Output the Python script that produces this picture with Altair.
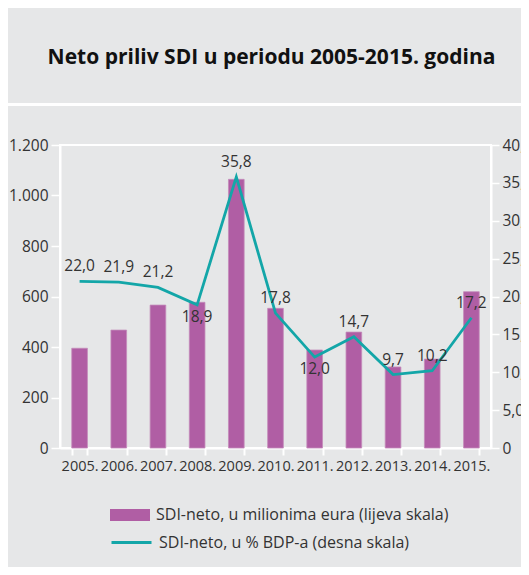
import altair as alt
import pandas as pd

years = ["2005.", "2006.", "2007.", "2008.", "2009.", "2010.", "2011.", "2012.", "2013.", "2014.", "2015."]
fdi_mil_eur = [395, 467, 566, 577, 1064, 553, 388, 459, 321, 352, 619]
fdi_pct_gdp = [22.0, 21.9, 21.2, 18.9, 35.8, 17.8, 12.0, 14.7, 9.7, 10.2, 17.2]
labels_below = ["2008.", "2011."]

series_bar = "SDI-neto, u milionima eura (lijeva skala)"
series_line = "SDI-neto, u % BDP-a (desna skala)"
title_text = "Neto priliv SDI u periodu 2005-2015. godina"

PURPLE = "#b05ea4"
TEAL = "#13a6a8"
BG = "#e6e7e8"
TXT = "#333333"
FONT = "Open Sans"

df = pd.DataFrame({
    "year": years,
    "fdi": fdi_mil_eur,
    "pct": fdi_pct_gdp,
    "s1": series_bar,
    "s2": series_line,
})
df["lbl"] = [f"{v:.1f}".replace(".", ",") for v in fdi_pct_gdp]
df["below"] = [y in labels_below for y in years]

x_enc = alt.X(
    "year:N",
    sort=years,
    title=None,
    scale=alt.Scale(paddingInner=0.6, paddingOuter=0.3),
    axis=alt.Axis(
        labelAngle=0, tickBand="extent", tickSize=7, labelPadding=4,
        domainColor="white", tickColor="white", domainWidth=2, tickWidth=2,
        labelFont=FONT, labelFontSize=14.5, labelColor=TXT, grid=False,
    ),
)

bars = alt.Chart(df).mark_bar(stroke="#c48cba", strokeWidth=0.8).encode(
    x=x_enc,
    y=alt.Y(
        "fdi:Q", title=None,
        scale=alt.Scale(domain=[0, 1200], nice=False),
        axis=alt.Axis(
            orient="left", values=[0, 200, 400, 600, 800, 1000, 1200],
            labelExpr="replace(format(datum.value, ','), ',', '.')",
            tickSize=9, labelPadding=3, domainColor="white", tickColor="white",
            domainWidth=2, tickWidth=1.5, grid=False,
            labelFont=FONT, labelFontSize=15.5, labelColor=TXT,
        ),
    ),
    color=alt.Color(
        "s1:N", scale=alt.Scale(domain=[series_bar], range=[PURPLE]),
        legend=alt.Legend(
            title=None, orient="none", legendX=50, legendY=350,
            symbolType="M-1,-0.3H1V0.3H-1Z", symbolSize=1600,
            symbolStrokeWidth=0, symbolOpacity=1, labelOffset=6, padding=0,
            labelFont=FONT, labelFontSize=16, labelColor=TXT, labelLimit=500,
        ),
    ),
)

y_pct = alt.Y(
    "pct:Q", title=None,
    scale=alt.Scale(domain=[0, 40], nice=False),
    axis=alt.Axis(
        orient="right", values=[0, 5, 10, 15, 20, 25, 30, 35, 40],
        labelExpr="datum.value == 0 ? '0' : replace(format(datum.value, '.1f'), '.', ',')",
        tickSize=8, labelPadding=3, domainColor="white", tickColor="white",
        domainWidth=2, tickWidth=1.5, grid=False,
        labelFont=FONT, labelFontSize=15.5, labelColor=TXT,
    ),
)

line = alt.Chart(df).mark_line(strokeWidth=2.8).encode(
    x=x_enc,
    y=y_pct,
    stroke=alt.Stroke(
        "s2:N", scale=alt.Scale(domain=[series_line], range=[TEAL]),
        legend=alt.Legend(
            title=None, orient="none", legendX=50, legendY=376,
            symbolType="stroke", symbolSize=1600, symbolStrokeWidth=2.8,
            labelOffset=6, padding=0,
            labelFont=FONT, labelFontSize=16, labelColor=TXT, labelLimit=500,
        ),
    ),
)

text_above = alt.Chart(df).transform_filter("!datum.below").mark_text(
    font=FONT, fontSize=15.5, color=TXT, dy=-15, baseline="middle"
).encode(x=x_enc, y=y_pct, text="lbl:N")

text_below = alt.Chart(df).transform_filter("datum.below").mark_text(
    font=FONT, fontSize=15.5, color=TXT, dy=12, baseline="middle"
).encode(x=x_enc, y=y_pct, text="lbl:N")

separator = alt.Chart(df).mark_rule(color="white", strokeWidth=3).encode(
    x=alt.value(-52), x2=alt.value(461), y=alt.value(-40.5)
)

right = alt.layer(line, text_above, text_below)

chart = alt.layer(separator, bars, right).resolve_scale(
    y="independent"
).properties(
    width=431,
    height=303,
    background=BG,
    padding={"left": 52, "top": 137, "right": 30, "bottom": 119},
    autosize=alt.AutoSizeParams(type="none"),
    title=alt.Title(
        title_text, font=FONT, fontSize=21, fontWeight="bold", color="#111111",
        anchor="middle", baseline="alphabetic", offset=18, dx=-4,
    ),
).configure_view(stroke="white", strokeWidth=2)

chart.save("out.html", embed_options={"renderer": "svg", "actions": False})
